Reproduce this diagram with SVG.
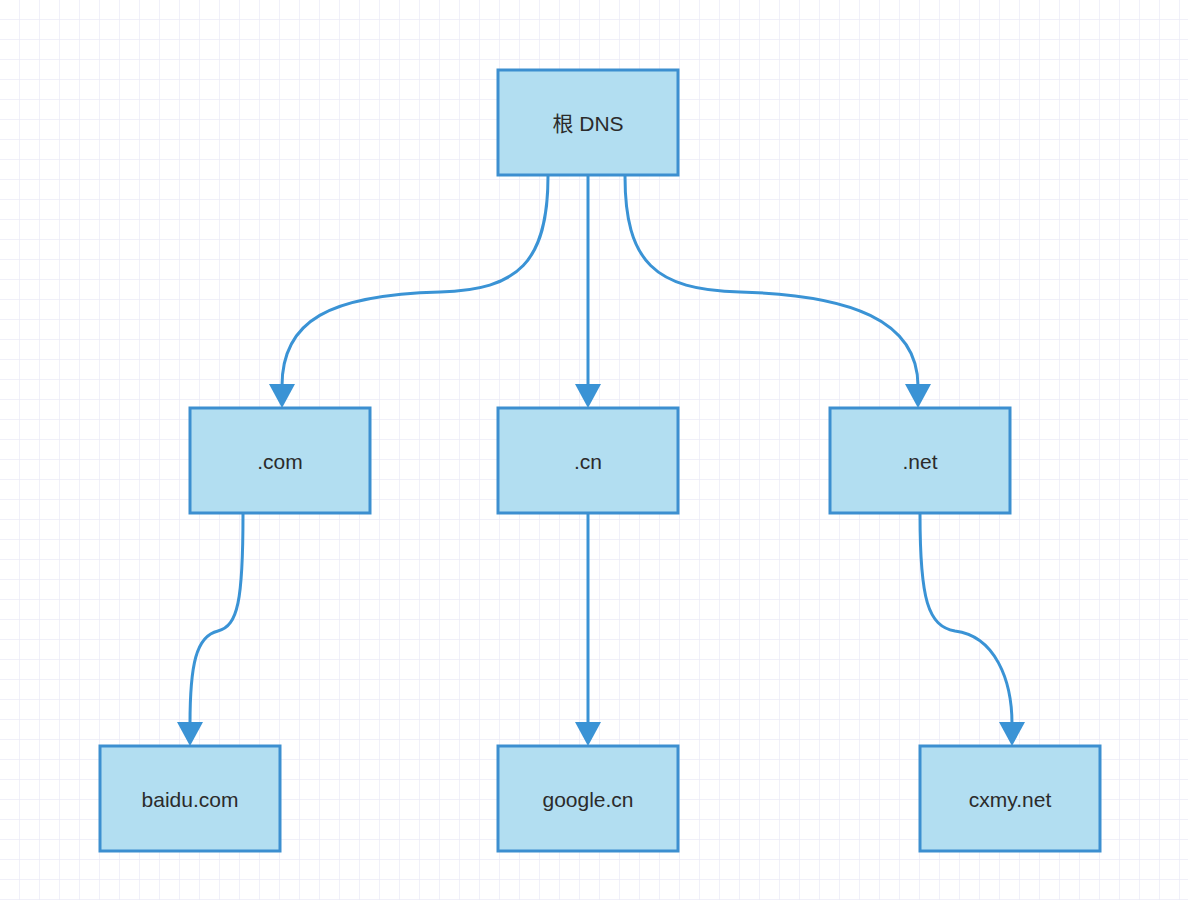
<svg xmlns="http://www.w3.org/2000/svg" width="1188" height="900" viewBox="0 0 1188 900">
<defs>
<pattern id="grid" x="0" y="0" width="20" height="20" patternUnits="userSpaceOnUse">
<path d="M20 0V20M0 20H20" fill="none" stroke="#ebebf7" stroke-width="1.5"/>
</pattern>
</defs>
<style>
.box{fill:#b2def1;stroke:#3c8fd0;stroke-width:3}
.lbl{font-family:"Liberation Sans","Noto Sans CJK SC",sans-serif;font-size:21px;fill:#2b2b2b;text-anchor:middle;dominant-baseline:central}
.edge{fill:none;stroke:#3a93d5;stroke-width:3}
</style>
<rect width="1188" height="900" fill="#ffffff"/>
<rect width="1188" height="900" fill="url(#grid)"/>
<g id="connectors">
<path class="edge" d="M548,176 C548,262 518,290 440,292 C330,295 282,320 282,386"/>
<path class="edge" d="M588,176 L588,386"/>
<path class="edge" d="M625,176 C625,262 655,290 740,292 C850,295 918,320 918,386"/>
<path class="edge" d="M243,514 C243,600 238,626 218,631 C196,636 190,665 190,724"/>
<path class="edge" d="M588,514 L588,724"/>
<path class="edge" d="M920,514 C920,600 928,626 955,631 C995,636 1012,680 1012,724"/>
<g fill="#3a93d5">
<polygon points="269,384 295,384 282,408"/>
<polygon points="575,384 601,384 588,408"/>
<polygon points="905,384 931,384 918,408"/>
<polygon points="177,722 203,722 190,746"/>
<polygon points="575,722 601,722 588,746"/>
<polygon points="999,722 1025,722 1012,746"/>
</g>
</g>
<g id="root"><rect class="box" x="498" y="70" width="180" height="105"/><text class="lbl" x="588" y="123">根 DNS</text></g>
<g id="com"><rect class="box" x="190" y="408" width="180" height="105"/><text class="lbl" x="280" y="461">.com</text></g>
<g id="cn"><rect class="box" x="498" y="408" width="180" height="105"/><text class="lbl" x="588" y="461">.cn</text></g>
<g id="net"><rect class="box" x="830" y="408" width="180" height="105"/><text class="lbl" x="920" y="461">.net</text></g>
<g id="baidu"><rect class="box" x="100" y="746" width="180" height="105"/><text class="lbl" x="190" y="799">baidu.com</text></g>
<g id="google"><rect class="box" x="498" y="746" width="180" height="105"/><text class="lbl" x="588" y="799">google.cn</text></g>
<g id="cxmy"><rect class="box" x="920" y="746" width="180" height="105"/><text class="lbl" x="1010" y="799">cxmy.net</text></g>
</svg>
